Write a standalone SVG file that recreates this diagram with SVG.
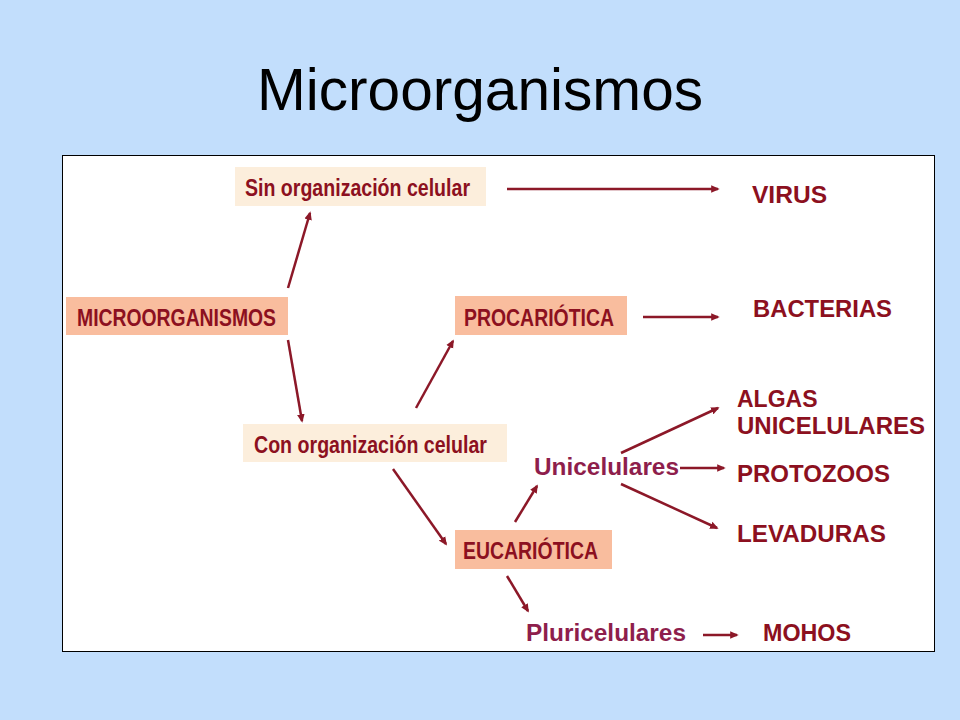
<svg xmlns="http://www.w3.org/2000/svg" width="960" height="720" viewBox="0 0 960 720">
<defs>
<style>
.bg{fill:#C2DEFC}
.panel{fill:#FFFFFF;stroke:#000000;stroke-width:1}
.pale{fill:#FCEEDC}
.salmon{fill:#F9BD9E}
.lbl{font-family:"Liberation Sans",Arial,sans-serif;font-weight:bold;fill:#8C1020}
.lblp{font-family:"Liberation Sans",Arial,sans-serif;font-weight:bold;fill:#8E1E4C}
.title{font-family:"Liberation Sans",Arial,sans-serif;font-size:59px;fill:#000000}
.c{stroke:#8C1828;stroke-width:2.5;fill:none;marker-end:url(#ah)}
</style>
<marker id="ah" viewBox="0 0 10 10" refX="8" refY="5" markerWidth="3.4" markerHeight="3.4" orient="auto" markerUnits="strokeWidth">
<path d="M0,0.5 L10,5 L0,9.5 z" fill="#8C1828"/>
</marker>
</defs>
<rect class="bg" x="0" y="0" width="960" height="720"/>
<text class="title" x="480" y="110" text-anchor="middle" textLength="446" lengthAdjust="spacingAndGlyphs">Microorganismos</text>
<rect class="panel" x="62.5" y="155.5" width="872" height="496"/>

<g id="connectors">
<line class="c" x1="288" y1="288" x2="310" y2="213"/>
<line class="c" x1="288" y1="340" x2="302" y2="421"/>
<line class="c" x1="507" y1="189" x2="718" y2="189"/>
<line class="c" x1="643" y1="317" x2="718" y2="317"/>
<line class="c" x1="416" y1="408" x2="453" y2="341"/>
<line class="c" x1="393" y1="469" x2="446" y2="544"/>
<line class="c" x1="515" y1="522" x2="537" y2="486"/>
<line class="c" x1="507" y1="576" x2="528" y2="611"/>
<line class="c" x1="621" y1="453" x2="718" y2="408"/>
<line class="c" x1="680" y1="468" x2="724" y2="468"/>
<line class="c" x1="621" y1="484" x2="717" y2="528"/>
<line class="c" x1="703" y1="635" x2="737" y2="635"/>
</g>

<g id="n-sin">
<rect class="pale" x="235" y="167" width="251" height="39"/>
<text class="lbl" x="245" y="196" font-size="23" textLength="225" lengthAdjust="spacingAndGlyphs">Sin organización celular</text>
</g>
<g id="n-micro">
<rect class="salmon" x="66" y="297" width="222" height="38"/>
<text class="lbl" x="77" y="326" font-size="23" textLength="199" lengthAdjust="spacingAndGlyphs">MICROORGANISMOS</text>
</g>
<g id="n-con">
<rect class="pale" x="243" y="424" width="264" height="38"/>
<text class="lbl" x="254" y="453" font-size="23" textLength="233" lengthAdjust="spacingAndGlyphs">Con organización celular</text>
</g>
<g id="n-proc">
<rect class="salmon" x="455" y="296" width="172" height="39"/>
<text class="lbl" x="464" y="326" font-size="23" textLength="150" lengthAdjust="spacingAndGlyphs">PROCARIÓTICA</text>
</g>
<g id="n-euc">
<rect class="salmon" x="455" y="530" width="157" height="39"/>
<text class="lbl" x="463" y="559" font-size="23" textLength="135" lengthAdjust="spacingAndGlyphs">EUCARIÓTICA</text>
</g>
<g id="n-virus">
<text class="lbl" x="752" y="203" font-size="23" textLength="75" lengthAdjust="spacingAndGlyphs">VIRUS</text>
</g>
<g id="n-bacterias">
<text class="lbl" x="753" y="317" font-size="23" textLength="139" lengthAdjust="spacingAndGlyphs">BACTERIAS</text>
</g>
<g id="n-uni">
<text class="lblp" x="534" y="475" font-size="23" textLength="145" lengthAdjust="spacingAndGlyphs">Unicelulares</text>
</g>
<g id="n-pluri">
<text class="lblp" x="526" y="641" font-size="23" textLength="160" lengthAdjust="spacingAndGlyphs">Pluricelulares</text>
</g>
<g id="n-algas">
<text class="lbl" x="737" y="407" font-size="23">ALGAS</text>
<text class="lbl" x="737" y="434" font-size="23" textLength="188" lengthAdjust="spacingAndGlyphs">UNICELULARES</text>
</g>
<g id="n-proto">
<text class="lbl" x="737" y="482" font-size="23" textLength="153" lengthAdjust="spacingAndGlyphs">PROTOZOOS</text>
</g>
<g id="n-leva">
<text class="lbl" x="737" y="542" font-size="23" textLength="149" lengthAdjust="spacingAndGlyphs">LEVADURAS</text>
</g>
<g id="n-mohos">
<text class="lbl" x="763" y="641" font-size="23" textLength="88" lengthAdjust="spacingAndGlyphs">MOHOS</text>
</g>
</svg>
